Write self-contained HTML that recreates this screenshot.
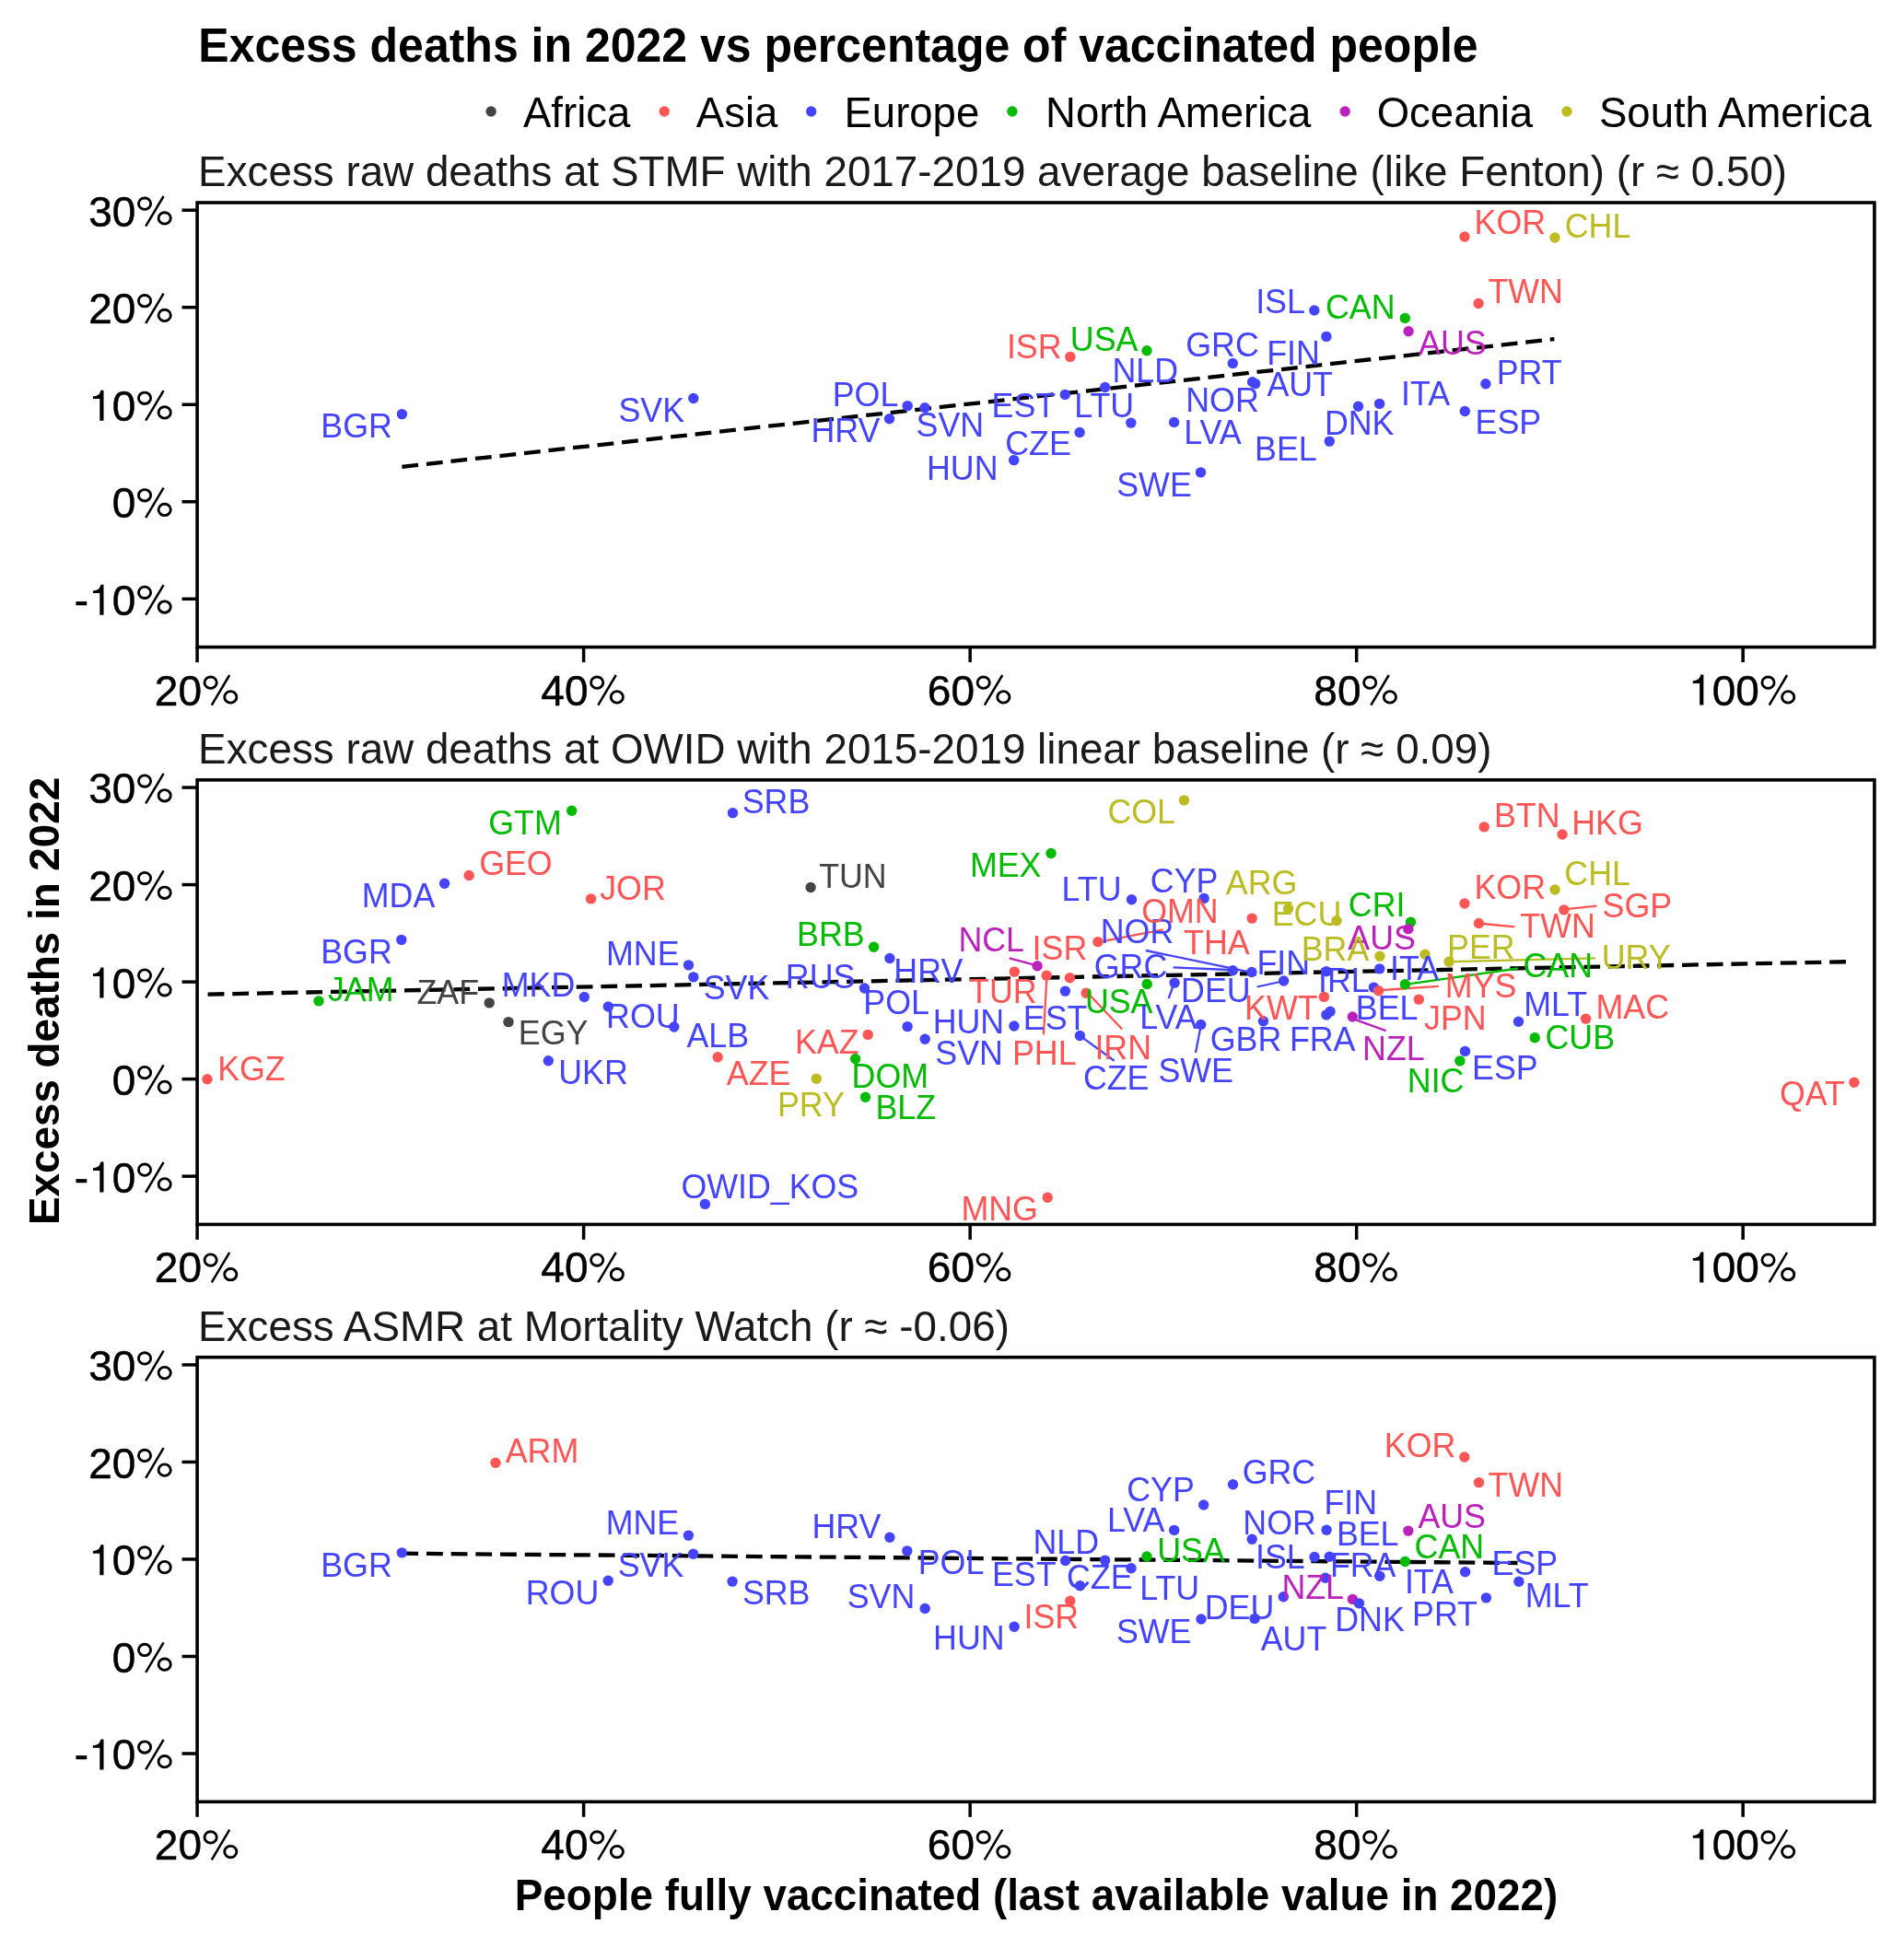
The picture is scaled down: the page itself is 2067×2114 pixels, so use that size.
<!DOCTYPE html><html><head><meta charset="utf-8"><style>html,body{margin:0;padding:0;background:#fff;}svg{display:block;will-change:transform;}text{font-family:"Liberation Sans",sans-serif;}</style></head><body>
<svg width="2067" height="2114" viewBox="0 0 2067 2114">
<rect x="0" y="0" width="2067" height="2114" fill="#fff"/>
<text transform="translate(215.3,66.7) scale(1,1.035)" font-size="50" font-weight="bold" fill="#000">Excess deaths in 2022 vs percentage of vaccinated people</text>
<circle cx="533.1" cy="121" r="5.7" fill="#444444"/>
<text x="568" y="137.9" font-size="45.5" fill="#000">Africa</text>
<circle cx="721.2" cy="121" r="5.7" fill="#ff5555"/>
<text x="755.8" y="137.9" font-size="45.5" fill="#000">Asia</text>
<circle cx="880.7" cy="121" r="5.7" fill="#4444ff"/>
<text x="916.5" y="137.9" font-size="45.5" fill="#000">Europe</text>
<circle cx="1098.9" cy="121" r="5.7" fill="#00bb00"/>
<text x="1135.1" y="137.9" font-size="45.5" fill="#000">North America</text>
<circle cx="1460.2" cy="121" r="5.7" fill="#bb22bb"/>
<text x="1494.7" y="137.9" font-size="45.5" fill="#000">Oceania</text>
<circle cx="1701" cy="121" r="5.7" fill="#bbbb22"/>
<text x="1736" y="137.9" font-size="45.5" fill="#000">South America</text>
<text transform="translate(1125,2074.2) scale(1,1.035)" font-size="45.8" font-weight="bold" text-anchor="middle" fill="#000">People fully vaccinated (last available value in 2022)</text>
<text x="0" y="0" font-size="45.8" font-weight="bold" text-anchor="middle" fill="#000" transform="translate(64.3,1086.9) rotate(-90)">Excess deaths in 2022</text>
<text transform="translate(215.1,202.4) scale(1,1.025)" font-size="45.8" fill="#1a1a1a">Excess raw deaths at STMF with 2017-2019 average baseline (like Fenton) (r ≈ 0.50)</text>
<line x1="197.5" y1="228.20" x2="214.1" y2="228.20" stroke="#000" stroke-width="3.5"/>
<text transform="translate(96.20,245.60) scale(1,1.01)" font-size="46" fill="#000" stroke="#000" stroke-width="0.5">3</text><text transform="translate(121.80,245.60) scale(1,1.01)" font-size="46" fill="#000" stroke="#000" stroke-width="0.5">0</text>
<g transform="translate(186.60,245.60)" fill="none" stroke="#000"><ellipse cx="-29.55" cy="-24.4" rx="6.6" ry="6.2" stroke-width="2.85"/><ellipse cx="-7.9" cy="-8.7" rx="6.6" ry="6.2" stroke-width="2.85"/><line x1="-9" y1="-32.6" x2="-28.4" y2="0" stroke-width="2.5"/></g>
<line x1="197.5" y1="333.73" x2="214.1" y2="333.73" stroke="#000" stroke-width="3.5"/>
<text transform="translate(96.20,351.12) scale(1,1.01)" font-size="46" fill="#000" stroke="#000" stroke-width="0.5">2</text><text transform="translate(121.80,351.12) scale(1,1.01)" font-size="46" fill="#000" stroke="#000" stroke-width="0.5">0</text>
<g transform="translate(186.60,351.12)" fill="none" stroke="#000"><ellipse cx="-29.55" cy="-24.4" rx="6.6" ry="6.2" stroke-width="2.85"/><ellipse cx="-7.9" cy="-8.7" rx="6.6" ry="6.2" stroke-width="2.85"/><line x1="-9" y1="-32.6" x2="-28.4" y2="0" stroke-width="2.5"/></g>
<line x1="197.5" y1="439.25" x2="214.1" y2="439.25" stroke="#000" stroke-width="3.5"/>
<path transform="translate(96.20,456.65)" d="M12.1,0 L16.3,0 L16.3,-33 L13.1,-33 C12.6,-29.2 10.2,-26.6 4.7,-26.4 L4.7,-23.6 L12.1,-23.6 Z" fill="#000"/><text transform="translate(121.80,456.65) scale(1,1.01)" font-size="46" fill="#000" stroke="#000" stroke-width="0.5">0</text>
<g transform="translate(186.60,456.65)" fill="none" stroke="#000"><ellipse cx="-29.55" cy="-24.4" rx="6.6" ry="6.2" stroke-width="2.85"/><ellipse cx="-7.9" cy="-8.7" rx="6.6" ry="6.2" stroke-width="2.85"/><line x1="-9" y1="-32.6" x2="-28.4" y2="0" stroke-width="2.5"/></g>
<line x1="197.5" y1="544.77" x2="214.1" y2="544.77" stroke="#000" stroke-width="3.5"/>
<text transform="translate(121.80,562.17) scale(1,1.01)" font-size="46" fill="#000" stroke="#000" stroke-width="0.5">0</text>
<g transform="translate(186.60,562.17)" fill="none" stroke="#000"><ellipse cx="-29.55" cy="-24.4" rx="6.6" ry="6.2" stroke-width="2.85"/><ellipse cx="-7.9" cy="-8.7" rx="6.6" ry="6.2" stroke-width="2.85"/><line x1="-9" y1="-32.6" x2="-28.4" y2="0" stroke-width="2.5"/></g>
<line x1="197.5" y1="650.30" x2="214.1" y2="650.30" stroke="#000" stroke-width="3.5"/>
<text transform="translate(80.87,667.70) scale(1,1.01)" font-size="46" fill="#000" stroke="#000" stroke-width="0.5">-</text><path transform="translate(96.20,667.70)" d="M12.1,0 L16.3,0 L16.3,-33 L13.1,-33 C12.6,-29.2 10.2,-26.6 4.7,-26.4 L4.7,-23.6 L12.1,-23.6 Z" fill="#000"/><text transform="translate(121.80,667.70) scale(1,1.01)" font-size="46" fill="#000" stroke="#000" stroke-width="0.5">0</text>
<g transform="translate(186.60,667.70)" fill="none" stroke="#000"><ellipse cx="-29.55" cy="-24.4" rx="6.6" ry="6.2" stroke-width="2.85"/><ellipse cx="-7.9" cy="-8.7" rx="6.6" ry="6.2" stroke-width="2.85"/><line x1="-9" y1="-32.6" x2="-28.4" y2="0" stroke-width="2.5"/></g>
<line x1="214.10" y1="702.60" x2="214.10" y2="719.10" stroke="#000" stroke-width="3.5"/>
<text transform="translate(167.80,765.60) scale(1,1.01)" font-size="46" fill="#000" stroke="#000" stroke-width="0.5">2</text><text transform="translate(193.40,765.60) scale(1,1.01)" font-size="46" fill="#000" stroke="#000" stroke-width="0.5">0</text>
<g transform="translate(258.20,765.60)" fill="none" stroke="#000"><ellipse cx="-29.55" cy="-24.4" rx="6.6" ry="6.2" stroke-width="2.85"/><ellipse cx="-7.9" cy="-8.7" rx="6.6" ry="6.2" stroke-width="2.85"/><line x1="-9" y1="-32.6" x2="-28.4" y2="0" stroke-width="2.5"/></g>
<line x1="633.62" y1="702.60" x2="633.62" y2="719.10" stroke="#000" stroke-width="3.5"/>
<text transform="translate(587.32,765.60) scale(1,1.01)" font-size="46" fill="#000" stroke="#000" stroke-width="0.5">4</text><text transform="translate(612.92,765.60) scale(1,1.01)" font-size="46" fill="#000" stroke="#000" stroke-width="0.5">0</text>
<g transform="translate(677.72,765.60)" fill="none" stroke="#000"><ellipse cx="-29.55" cy="-24.4" rx="6.6" ry="6.2" stroke-width="2.85"/><ellipse cx="-7.9" cy="-8.7" rx="6.6" ry="6.2" stroke-width="2.85"/><line x1="-9" y1="-32.6" x2="-28.4" y2="0" stroke-width="2.5"/></g>
<line x1="1053.14" y1="702.60" x2="1053.14" y2="719.10" stroke="#000" stroke-width="3.5"/>
<text transform="translate(1006.84,765.60) scale(1,1.01)" font-size="46" fill="#000" stroke="#000" stroke-width="0.5">6</text><text transform="translate(1032.44,765.60) scale(1,1.01)" font-size="46" fill="#000" stroke="#000" stroke-width="0.5">0</text>
<g transform="translate(1097.24,765.60)" fill="none" stroke="#000"><ellipse cx="-29.55" cy="-24.4" rx="6.6" ry="6.2" stroke-width="2.85"/><ellipse cx="-7.9" cy="-8.7" rx="6.6" ry="6.2" stroke-width="2.85"/><line x1="-9" y1="-32.6" x2="-28.4" y2="0" stroke-width="2.5"/></g>
<line x1="1472.66" y1="702.60" x2="1472.66" y2="719.10" stroke="#000" stroke-width="3.5"/>
<text transform="translate(1426.36,765.60) scale(1,1.01)" font-size="46" fill="#000" stroke="#000" stroke-width="0.5">8</text><text transform="translate(1451.96,765.60) scale(1,1.01)" font-size="46" fill="#000" stroke="#000" stroke-width="0.5">0</text>
<g transform="translate(1516.76,765.60)" fill="none" stroke="#000"><ellipse cx="-29.55" cy="-24.4" rx="6.6" ry="6.2" stroke-width="2.85"/><ellipse cx="-7.9" cy="-8.7" rx="6.6" ry="6.2" stroke-width="2.85"/><line x1="-9" y1="-32.6" x2="-28.4" y2="0" stroke-width="2.5"/></g>
<line x1="1892.18" y1="702.60" x2="1892.18" y2="719.10" stroke="#000" stroke-width="3.5"/>
<path transform="translate(1833.08,765.60)" d="M12.1,0 L16.3,0 L16.3,-33 L13.1,-33 C12.6,-29.2 10.2,-26.6 4.7,-26.4 L4.7,-23.6 L12.1,-23.6 Z" fill="#000"/><text transform="translate(1858.68,765.60) scale(1,1.01)" font-size="46" fill="#000" stroke="#000" stroke-width="0.5">0</text><text transform="translate(1884.28,765.60) scale(1,1.01)" font-size="46" fill="#000" stroke="#000" stroke-width="0.5">0</text>
<g transform="translate(1949.08,765.60)" fill="none" stroke="#000"><ellipse cx="-29.55" cy="-24.4" rx="6.6" ry="6.2" stroke-width="2.85"/><ellipse cx="-7.9" cy="-8.7" rx="6.6" ry="6.2" stroke-width="2.85"/><line x1="-9" y1="-32.6" x2="-28.4" y2="0" stroke-width="2.5"/></g>
<rect x="214.1" y="220.00" width="1820.80" height="482.60" fill="none" stroke="#000" stroke-width="3.6"/>
<line x1="436.4" y1="506.8" x2="1687.4" y2="368.2" stroke="#000" stroke-width="4.3" stroke-dasharray="17.8 8.88"/>
<circle cx="436.4" cy="449.6" r="5.7" fill="#4444ff"/>
<circle cx="752.8" cy="432.5" r="5.7" fill="#4444ff"/>
<circle cx="985.2" cy="440.6" r="5.7" fill="#4444ff"/>
<circle cx="1004" cy="442.7" r="5.7" fill="#4444ff"/>
<circle cx="965.5" cy="454.8" r="5.7" fill="#4444ff"/>
<circle cx="1100.7" cy="499.6" r="5.7" fill="#4444ff"/>
<circle cx="1172.1" cy="469.5" r="5.7" fill="#4444ff"/>
<circle cx="1156.3" cy="428.4" r="5.7" fill="#4444ff"/>
<circle cx="1199.6" cy="420.5" r="5.7" fill="#4444ff"/>
<circle cx="1227.8" cy="459.1" r="5.7" fill="#4444ff"/>
<circle cx="1161.8" cy="387.4" r="5.7" fill="#ff5555"/>
<circle cx="1245" cy="380.8" r="5.7" fill="#00bb00"/>
<circle cx="1338.3" cy="394.5" r="5.7" fill="#4444ff"/>
<circle cx="1359.6" cy="414.7" r="5.7" fill="#4444ff"/>
<circle cx="1362.7" cy="416.6" r="5.7" fill="#4444ff"/>
<circle cx="1274.6" cy="458.5" r="5.7" fill="#4444ff"/>
<circle cx="1303.5" cy="512.9" r="5.7" fill="#4444ff"/>
<circle cx="1426.8" cy="337" r="5.7" fill="#4444ff"/>
<circle cx="1439.9" cy="365.4" r="5.7" fill="#4444ff"/>
<circle cx="1525.3" cy="345.4" r="5.7" fill="#00bb00"/>
<circle cx="1529.1" cy="359.8" r="5.7" fill="#bb22bb"/>
<circle cx="1590" cy="257" r="5.7" fill="#ff5555"/>
<circle cx="1688" cy="258" r="5.7" fill="#bbbb22"/>
<circle cx="1605.1" cy="329.5" r="5.7" fill="#ff5555"/>
<circle cx="1612.9" cy="416.7" r="5.7" fill="#4444ff"/>
<circle cx="1590.3" cy="446.5" r="5.7" fill="#4444ff"/>
<circle cx="1474.5" cy="441.3" r="5.7" fill="#4444ff"/>
<circle cx="1497.6" cy="438.4" r="5.7" fill="#4444ff"/>
<circle cx="1443.3" cy="479.1" r="5.7" fill="#4444ff"/>
<text transform="translate(387.1,475.1) scale(1,1.05)" font-size="35.8" text-anchor="middle" fill="#4444ff">BGR</text>
<text transform="translate(707.3,457.5) scale(1,1.05)" font-size="35.8" text-anchor="middle" fill="#4444ff">SVK</text>
<text transform="translate(939.5,441.2) scale(1,1.05)" font-size="35.8" text-anchor="middle" fill="#4444ff">POL</text>
<text transform="translate(917.9,479.6) scale(1,1.05)" font-size="35.8" text-anchor="middle" fill="#4444ff">HRV</text>
<text transform="translate(1031.4,473.6) scale(1,1.05)" font-size="35.8" text-anchor="middle" fill="#4444ff">SVN</text>
<text transform="translate(1044.7,520.7) scale(1,1.05)" font-size="35.8" text-anchor="middle" fill="#4444ff">HUN</text>
<text transform="translate(1127,494) scale(1,1.05)" font-size="35.8" text-anchor="middle" fill="#4444ff">CZE</text>
<text transform="translate(1111.4,452.8) scale(1,1.05)" font-size="35.8" text-anchor="middle" fill="#4444ff">EST</text>
<text transform="translate(1198.7,452.8) scale(1,1.05)" font-size="35.8" text-anchor="middle" fill="#4444ff">LTU</text>
<text transform="translate(1243.3,414.6) scale(1,1.05)" font-size="35.8" text-anchor="middle" fill="#4444ff">NLD</text>
<text transform="translate(1122.7,389.2) scale(1,1.05)" font-size="35.8" text-anchor="middle" fill="#ff5555">ISR</text>
<text transform="translate(1198.6,381.2) scale(1,1.05)" font-size="35.8" text-anchor="middle" fill="#00bb00">USA</text>
<text transform="translate(1327,386.5) scale(1,1.05)" font-size="35.8" text-anchor="middle" fill="#4444ff">GRC</text>
<text transform="translate(1327,447) scale(1,1.05)" font-size="35.8" text-anchor="middle" fill="#4444ff">NOR</text>
<text transform="translate(1316.5,481.7) scale(1,1.05)" font-size="35.8" text-anchor="middle" fill="#4444ff">LVA</text>
<text transform="translate(1253,538.6) scale(1,1.05)" font-size="35.8" text-anchor="middle" fill="#4444ff">SWE</text>
<text transform="translate(1390,339.8) scale(1,1.05)" font-size="35.8" text-anchor="middle" fill="#4444ff">ISL</text>
<text transform="translate(1476.8,345.7) scale(1,1.05)" font-size="35.8" text-anchor="middle" fill="#00bb00">CAN</text>
<text transform="translate(1639.3,253.8) scale(1,1.05)" font-size="35.8" text-anchor="middle" fill="#ff5555">KOR</text>
<text transform="translate(1734.5,258.4) scale(1,1.05)" font-size="35.8" text-anchor="middle" fill="#bbbb22">CHL</text>
<text transform="translate(1656.2,328.9) scale(1,1.05)" font-size="35.8" text-anchor="middle" fill="#ff5555">TWN</text>
<text transform="translate(1404,396.3) scale(1,1.05)" font-size="35.8" text-anchor="middle" fill="#4444ff">FIN</text>
<text transform="translate(1576.8,384.7) scale(1,1.05)" font-size="35.8" text-anchor="middle" fill="#bb22bb">AUS</text>
<text transform="translate(1411.2,430.3) scale(1,1.05)" font-size="35.8" text-anchor="middle" fill="#4444ff">AUT</text>
<text transform="translate(1547.6,439.5) scale(1,1.05)" font-size="35.8" text-anchor="middle" fill="#4444ff">ITA</text>
<text transform="translate(1660.2,417.3) scale(1,1.05)" font-size="35.8" text-anchor="middle" fill="#4444ff">PRT</text>
<text transform="translate(1475.7,472.2) scale(1,1.05)" font-size="35.8" text-anchor="middle" fill="#4444ff">DNK</text>
<text transform="translate(1637.4,471.3) scale(1,1.05)" font-size="35.8" text-anchor="middle" fill="#4444ff">ESP</text>
<text transform="translate(1395.9,500.2) scale(1,1.05)" font-size="35.8" text-anchor="middle" fill="#4444ff">BEL</text>
<text transform="translate(215.1,829.2) scale(1,1.025)" font-size="45.8" fill="#1a1a1a">Excess raw deaths at OWID with 2015-2019 linear baseline (r ≈ 0.09)</text>
<line x1="197.5" y1="855.05" x2="214.1" y2="855.05" stroke="#000" stroke-width="3.5"/>
<text transform="translate(96.20,872.45) scale(1,1.01)" font-size="46" fill="#000" stroke="#000" stroke-width="0.5">3</text><text transform="translate(121.80,872.45) scale(1,1.01)" font-size="46" fill="#000" stroke="#000" stroke-width="0.5">0</text>
<g transform="translate(186.60,872.45)" fill="none" stroke="#000"><ellipse cx="-29.55" cy="-24.4" rx="6.6" ry="6.2" stroke-width="2.85"/><ellipse cx="-7.9" cy="-8.7" rx="6.6" ry="6.2" stroke-width="2.85"/><line x1="-9" y1="-32.6" x2="-28.4" y2="0" stroke-width="2.5"/></g>
<line x1="197.5" y1="960.57" x2="214.1" y2="960.57" stroke="#000" stroke-width="3.5"/>
<text transform="translate(96.20,977.97) scale(1,1.01)" font-size="46" fill="#000" stroke="#000" stroke-width="0.5">2</text><text transform="translate(121.80,977.97) scale(1,1.01)" font-size="46" fill="#000" stroke="#000" stroke-width="0.5">0</text>
<g transform="translate(186.60,977.97)" fill="none" stroke="#000"><ellipse cx="-29.55" cy="-24.4" rx="6.6" ry="6.2" stroke-width="2.85"/><ellipse cx="-7.9" cy="-8.7" rx="6.6" ry="6.2" stroke-width="2.85"/><line x1="-9" y1="-32.6" x2="-28.4" y2="0" stroke-width="2.5"/></g>
<line x1="197.5" y1="1066.10" x2="214.1" y2="1066.10" stroke="#000" stroke-width="3.5"/>
<path transform="translate(96.20,1083.50)" d="M12.1,0 L16.3,0 L16.3,-33 L13.1,-33 C12.6,-29.2 10.2,-26.6 4.7,-26.4 L4.7,-23.6 L12.1,-23.6 Z" fill="#000"/><text transform="translate(121.80,1083.50) scale(1,1.01)" font-size="46" fill="#000" stroke="#000" stroke-width="0.5">0</text>
<g transform="translate(186.60,1083.50)" fill="none" stroke="#000"><ellipse cx="-29.55" cy="-24.4" rx="6.6" ry="6.2" stroke-width="2.85"/><ellipse cx="-7.9" cy="-8.7" rx="6.6" ry="6.2" stroke-width="2.85"/><line x1="-9" y1="-32.6" x2="-28.4" y2="0" stroke-width="2.5"/></g>
<line x1="197.5" y1="1171.62" x2="214.1" y2="1171.62" stroke="#000" stroke-width="3.5"/>
<text transform="translate(121.80,1189.03) scale(1,1.01)" font-size="46" fill="#000" stroke="#000" stroke-width="0.5">0</text>
<g transform="translate(186.60,1189.03)" fill="none" stroke="#000"><ellipse cx="-29.55" cy="-24.4" rx="6.6" ry="6.2" stroke-width="2.85"/><ellipse cx="-7.9" cy="-8.7" rx="6.6" ry="6.2" stroke-width="2.85"/><line x1="-9" y1="-32.6" x2="-28.4" y2="0" stroke-width="2.5"/></g>
<line x1="197.5" y1="1277.15" x2="214.1" y2="1277.15" stroke="#000" stroke-width="3.5"/>
<text transform="translate(80.87,1294.55) scale(1,1.01)" font-size="46" fill="#000" stroke="#000" stroke-width="0.5">-</text><path transform="translate(96.20,1294.55)" d="M12.1,0 L16.3,0 L16.3,-33 L13.1,-33 C12.6,-29.2 10.2,-26.6 4.7,-26.4 L4.7,-23.6 L12.1,-23.6 Z" fill="#000"/><text transform="translate(121.80,1294.55) scale(1,1.01)" font-size="46" fill="#000" stroke="#000" stroke-width="0.5">0</text>
<g transform="translate(186.60,1294.55)" fill="none" stroke="#000"><ellipse cx="-29.55" cy="-24.4" rx="6.6" ry="6.2" stroke-width="2.85"/><ellipse cx="-7.9" cy="-8.7" rx="6.6" ry="6.2" stroke-width="2.85"/><line x1="-9" y1="-32.6" x2="-28.4" y2="0" stroke-width="2.5"/></g>
<line x1="214.10" y1="1329.45" x2="214.10" y2="1345.95" stroke="#000" stroke-width="3.5"/>
<text transform="translate(167.80,1392.45) scale(1,1.01)" font-size="46" fill="#000" stroke="#000" stroke-width="0.5">2</text><text transform="translate(193.40,1392.45) scale(1,1.01)" font-size="46" fill="#000" stroke="#000" stroke-width="0.5">0</text>
<g transform="translate(258.20,1392.45)" fill="none" stroke="#000"><ellipse cx="-29.55" cy="-24.4" rx="6.6" ry="6.2" stroke-width="2.85"/><ellipse cx="-7.9" cy="-8.7" rx="6.6" ry="6.2" stroke-width="2.85"/><line x1="-9" y1="-32.6" x2="-28.4" y2="0" stroke-width="2.5"/></g>
<line x1="633.62" y1="1329.45" x2="633.62" y2="1345.95" stroke="#000" stroke-width="3.5"/>
<text transform="translate(587.32,1392.45) scale(1,1.01)" font-size="46" fill="#000" stroke="#000" stroke-width="0.5">4</text><text transform="translate(612.92,1392.45) scale(1,1.01)" font-size="46" fill="#000" stroke="#000" stroke-width="0.5">0</text>
<g transform="translate(677.72,1392.45)" fill="none" stroke="#000"><ellipse cx="-29.55" cy="-24.4" rx="6.6" ry="6.2" stroke-width="2.85"/><ellipse cx="-7.9" cy="-8.7" rx="6.6" ry="6.2" stroke-width="2.85"/><line x1="-9" y1="-32.6" x2="-28.4" y2="0" stroke-width="2.5"/></g>
<line x1="1053.14" y1="1329.45" x2="1053.14" y2="1345.95" stroke="#000" stroke-width="3.5"/>
<text transform="translate(1006.84,1392.45) scale(1,1.01)" font-size="46" fill="#000" stroke="#000" stroke-width="0.5">6</text><text transform="translate(1032.44,1392.45) scale(1,1.01)" font-size="46" fill="#000" stroke="#000" stroke-width="0.5">0</text>
<g transform="translate(1097.24,1392.45)" fill="none" stroke="#000"><ellipse cx="-29.55" cy="-24.4" rx="6.6" ry="6.2" stroke-width="2.85"/><ellipse cx="-7.9" cy="-8.7" rx="6.6" ry="6.2" stroke-width="2.85"/><line x1="-9" y1="-32.6" x2="-28.4" y2="0" stroke-width="2.5"/></g>
<line x1="1472.66" y1="1329.45" x2="1472.66" y2="1345.95" stroke="#000" stroke-width="3.5"/>
<text transform="translate(1426.36,1392.45) scale(1,1.01)" font-size="46" fill="#000" stroke="#000" stroke-width="0.5">8</text><text transform="translate(1451.96,1392.45) scale(1,1.01)" font-size="46" fill="#000" stroke="#000" stroke-width="0.5">0</text>
<g transform="translate(1516.76,1392.45)" fill="none" stroke="#000"><ellipse cx="-29.55" cy="-24.4" rx="6.6" ry="6.2" stroke-width="2.85"/><ellipse cx="-7.9" cy="-8.7" rx="6.6" ry="6.2" stroke-width="2.85"/><line x1="-9" y1="-32.6" x2="-28.4" y2="0" stroke-width="2.5"/></g>
<line x1="1892.18" y1="1329.45" x2="1892.18" y2="1345.95" stroke="#000" stroke-width="3.5"/>
<path transform="translate(1833.08,1392.45)" d="M12.1,0 L16.3,0 L16.3,-33 L13.1,-33 C12.6,-29.2 10.2,-26.6 4.7,-26.4 L4.7,-23.6 L12.1,-23.6 Z" fill="#000"/><text transform="translate(1858.68,1392.45) scale(1,1.01)" font-size="46" fill="#000" stroke="#000" stroke-width="0.5">0</text><text transform="translate(1884.28,1392.45) scale(1,1.01)" font-size="46" fill="#000" stroke="#000" stroke-width="0.5">0</text>
<g transform="translate(1949.08,1392.45)" fill="none" stroke="#000"><ellipse cx="-29.55" cy="-24.4" rx="6.6" ry="6.2" stroke-width="2.85"/><ellipse cx="-7.9" cy="-8.7" rx="6.6" ry="6.2" stroke-width="2.85"/><line x1="-9" y1="-32.6" x2="-28.4" y2="0" stroke-width="2.5"/></g>
<rect x="214.1" y="846.85" width="1820.80" height="482.60" fill="none" stroke="#000" stroke-width="3.6"/>
<line x1="225.6" y1="1079.6" x2="2012.5" y2="1044.1" stroke="#000" stroke-width="4.3" stroke-dasharray="17.8 8.88"/>
<line x1="1095.7" y1="1040.4" x2="1124.0" y2="1047.8" stroke="#bb22bb" stroke-width="2.3"/>
<line x1="1199.7" y1="1021.5" x2="1262.7" y2="1009.3" stroke="#ff5555" stroke-width="2.3"/>
<line x1="1136.2" y1="1064.6" x2="1132.9" y2="1123.4" stroke="#ff5555" stroke-width="2.3"/>
<line x1="1182.9" y1="1080.3" x2="1218.2" y2="1117.5" stroke="#ff5555" stroke-width="2.3"/>
<line x1="1176.6" y1="1127.6" x2="1209.7" y2="1151.8" stroke="#4444ff" stroke-width="2.3"/>
<line x1="1273.2" y1="1071.5" x2="1268.6" y2="1084.1" stroke="#4444ff" stroke-width="2.3"/>
<line x1="1303.0" y1="1117.1" x2="1298.0" y2="1143.0" stroke="#4444ff" stroke-width="2.3"/>
<line x1="1273.6" y1="1050.3" x2="1334.1" y2="1053.0" stroke="#4444ff" stroke-width="2.3"/>
<line x1="1243.8" y1="1032.0" x2="1355.1" y2="1055.1" stroke="#4444ff" stroke-width="2.3"/>
<line x1="1364.6" y1="1071.5" x2="1389.8" y2="1066.0" stroke="#4444ff" stroke-width="2.3"/>
<line x1="1702.4" y1="986.9" x2="1733.4" y2="983.6" stroke="#ff5555" stroke-width="2.3"/>
<line x1="1610.4" y1="1003.0" x2="1644.5" y2="1006.3" stroke="#ff5555" stroke-width="2.3"/>
<line x1="1576.5" y1="1044.2" x2="1731.9" y2="1040.4" stroke="#bbbb22" stroke-width="2.3"/>
<line x1="1529.2" y1="1068.3" x2="1647.9" y2="1051.5" stroke="#00bb00" stroke-width="2.3"/>
<line x1="1500.8" y1="1075.0" x2="1561.8" y2="1070.8" stroke="#ff5555" stroke-width="2.3"/>
<line x1="1471.4" y1="1107.2" x2="1504.6" y2="1119.2" stroke="#bb22bb" stroke-width="2.3"/>
<circle cx="620.7" cy="880.3" r="5.7" fill="#00bb00"/>
<circle cx="509.2" cy="950.5" r="5.7" fill="#ff5555"/>
<circle cx="482.6" cy="959.2" r="5.7" fill="#4444ff"/>
<circle cx="641.5" cy="975.9" r="5.7" fill="#ff5555"/>
<circle cx="435.8" cy="1020.4" r="5.7" fill="#4444ff"/>
<circle cx="747.5" cy="1047.9" r="5.7" fill="#4444ff"/>
<circle cx="752.8" cy="1060.9" r="5.7" fill="#4444ff"/>
<circle cx="346" cy="1086.9" r="5.7" fill="#00bb00"/>
<circle cx="531.2" cy="1088.9" r="5.7" fill="#444444"/>
<circle cx="634.3" cy="1082.5" r="5.7" fill="#4444ff"/>
<circle cx="660.3" cy="1093" r="5.7" fill="#4444ff"/>
<circle cx="225" cy="1171.7" r="5.7" fill="#ff5555"/>
<circle cx="552" cy="1109.6" r="5.7" fill="#444444"/>
<circle cx="595.3" cy="1151.7" r="5.7" fill="#4444ff"/>
<circle cx="731.8" cy="1115" r="5.7" fill="#4444ff"/>
<circle cx="795.5" cy="882.6" r="5.7" fill="#4444ff"/>
<circle cx="880.1" cy="963.5" r="5.7" fill="#444444"/>
<circle cx="1141" cy="926.5" r="5.7" fill="#00bb00"/>
<circle cx="1228.5" cy="976.8" r="5.7" fill="#4444ff"/>
<circle cx="1285.5" cy="868.9" r="5.7" fill="#bbbb22"/>
<circle cx="948.6" cy="1028.2" r="5.7" fill="#00bb00"/>
<circle cx="965.9" cy="1040.5" r="5.7" fill="#4444ff"/>
<circle cx="938.5" cy="1073" r="5.7" fill="#4444ff"/>
<circle cx="985.1" cy="1114.6" r="5.7" fill="#4444ff"/>
<circle cx="1004.2" cy="1128.3" r="5.7" fill="#4444ff"/>
<circle cx="1100.9" cy="1114" r="5.7" fill="#4444ff"/>
<circle cx="942.2" cy="1123.4" r="5.7" fill="#ff5555"/>
<circle cx="779.2" cy="1147.8" r="5.7" fill="#ff5555"/>
<circle cx="928.6" cy="1149.7" r="5.7" fill="#00bb00"/>
<circle cx="886.3" cy="1171.3" r="5.7" fill="#bbbb22"/>
<circle cx="939.5" cy="1191.3" r="5.7" fill="#00bb00"/>
<circle cx="765.4" cy="1307.4" r="5.7" fill="#4444ff"/>
<circle cx="1137.2" cy="1300.3" r="5.7" fill="#ff5555"/>
<circle cx="1126.1" cy="1048.8" r="5.7" fill="#bb22bb"/>
<circle cx="1101.3" cy="1055.1" r="5.7" fill="#ff5555"/>
<circle cx="1136.2" cy="1059.3" r="5.7" fill="#ff5555"/>
<circle cx="1161.4" cy="1061.8" r="5.7" fill="#ff5555"/>
<circle cx="1191.9" cy="1022.6" r="5.7" fill="#ff5555"/>
<circle cx="1156.4" cy="1076.1" r="5.7" fill="#4444ff"/>
<circle cx="1179.1" cy="1078.2" r="5.7" fill="#ff5555"/>
<circle cx="1172.4" cy="1124.5" r="5.7" fill="#4444ff"/>
<circle cx="1245.2" cy="1068.5" r="5.7" fill="#00bb00"/>
<circle cx="1275.1" cy="1067.1" r="5.7" fill="#4444ff"/>
<circle cx="1303.7" cy="1112.5" r="5.7" fill="#4444ff"/>
<circle cx="1338.3" cy="1053.7" r="5.7" fill="#4444ff"/>
<circle cx="1358.9" cy="1055.5" r="5.7" fill="#4444ff"/>
<circle cx="1393.6" cy="1065" r="5.7" fill="#4444ff"/>
<circle cx="1371.5" cy="1108.7" r="5.7" fill="#4444ff"/>
<circle cx="1307.1" cy="975.4" r="5.7" fill="#4444ff"/>
<circle cx="1359.2" cy="997.1" r="5.7" fill="#ff5555"/>
<circle cx="1398.5" cy="986.6" r="5.7" fill="#bbbb22"/>
<circle cx="1451" cy="999.6" r="5.7" fill="#bbbb22"/>
<circle cx="1531.5" cy="1001.3" r="5.7" fill="#00bb00"/>
<circle cx="1528.8" cy="1008.6" r="5.7" fill="#bb22bb"/>
<circle cx="1590" cy="981" r="5.7" fill="#ff5555"/>
<circle cx="1497.9" cy="1038.3" r="5.7" fill="#bbbb22"/>
<circle cx="1547" cy="1036.2" r="5.7" fill="#bbbb22"/>
<circle cx="1573.1" cy="1044.3" r="5.7" fill="#bbbb22"/>
<circle cx="1611.2" cy="897.9" r="5.7" fill="#ff5555"/>
<circle cx="1696.1" cy="906" r="5.7" fill="#ff5555"/>
<circle cx="1688.1" cy="966" r="5.7" fill="#bbbb22"/>
<circle cx="1697.9" cy="987.9" r="5.7" fill="#ff5555"/>
<circle cx="1605.4" cy="1002.5" r="5.7" fill="#ff5555"/>
<circle cx="1439.9" cy="1054.7" r="5.7" fill="#4444ff"/>
<circle cx="1497.7" cy="1051.9" r="5.7" fill="#4444ff"/>
<circle cx="1491.4" cy="1072.1" r="5.7" fill="#4444ff"/>
<circle cx="1496.6" cy="1075.7" r="5.7" fill="#ff5555"/>
<circle cx="1525.4" cy="1068.7" r="5.7" fill="#00bb00"/>
<circle cx="1437.4" cy="1082.4" r="5.7" fill="#ff5555"/>
<circle cx="1540.3" cy="1085.1" r="5.7" fill="#ff5555"/>
<circle cx="1439.9" cy="1101.9" r="5.7" fill="#4444ff"/>
<circle cx="1444.1" cy="1098.2" r="5.7" fill="#4444ff"/>
<circle cx="1468.3" cy="1104" r="5.7" fill="#bb22bb"/>
<circle cx="1648.5" cy="1109.3" r="5.7" fill="#4444ff"/>
<circle cx="1721.6" cy="1106.1" r="5.7" fill="#ff5555"/>
<circle cx="1666.2" cy="1126.7" r="5.7" fill="#00bb00"/>
<circle cx="1590.5" cy="1141.4" r="5.7" fill="#4444ff"/>
<circle cx="1584.9" cy="1151.9" r="5.7" fill="#00bb00"/>
<circle cx="2012.9" cy="1175.2" r="5.7" fill="#ff5555"/>
<text transform="translate(570,906.3) scale(1,1.05)" font-size="35.8" text-anchor="middle" fill="#00bb00">GTM</text>
<text transform="translate(559.9,949.7) scale(1,1.05)" font-size="35.8" text-anchor="middle" fill="#ff5555">GEO</text>
<text transform="translate(432.5,985.2) scale(1,1.05)" font-size="35.8" text-anchor="middle" fill="#4444ff">MDA</text>
<text transform="translate(687,977.1) scale(1,1.05)" font-size="35.8" text-anchor="middle" fill="#ff5555">JOR</text>
<text transform="translate(387,1046.4) scale(1,1.05)" font-size="35.8" text-anchor="middle" fill="#4444ff">BGR</text>
<text transform="translate(697.8,1047.9) scale(1,1.05)" font-size="35.8" text-anchor="middle" fill="#4444ff">MNE</text>
<text transform="translate(391.7,1087.4) scale(1,1.05)" font-size="35.8" text-anchor="middle" fill="#00bb00">JAM</text>
<text transform="translate(486.3,1090.3) scale(1,1.05)" font-size="35.8" text-anchor="middle" fill="#444444">ZAF</text>
<text transform="translate(584.5,1081.7) scale(1,1.05)" font-size="35.8" text-anchor="middle" fill="#4444ff">MKD</text>
<text transform="translate(272.9,1172.5) scale(1,1.05)" font-size="35.8" text-anchor="middle" fill="#ff5555">KGZ</text>
<text transform="translate(600.6,1134.1) scale(1,1.05)" font-size="35.8" text-anchor="middle" fill="#444444">EGY</text>
<text transform="translate(644,1176.9) scale(1,1.05)" font-size="35.8" text-anchor="middle" fill="#4444ff">UKR</text>
<text transform="translate(697.8,1115.6) scale(1,1.05)" font-size="35.8" text-anchor="middle" fill="#4444ff">ROU</text>
<text transform="translate(842.5,882.6) scale(1,1.05)" font-size="35.8" text-anchor="middle" fill="#4444ff">SRB</text>
<text transform="translate(925.9,963.5) scale(1,1.05)" font-size="35.8" text-anchor="middle" fill="#444444">TUN</text>
<text transform="translate(1091.7,951.7) scale(1,1.05)" font-size="35.8" text-anchor="middle" fill="#00bb00">MEX</text>
<text transform="translate(1185.1,977.7) scale(1,1.05)" font-size="35.8" text-anchor="middle" fill="#4444ff">LTU</text>
<text transform="translate(1239.2,894) scale(1,1.05)" font-size="35.8" text-anchor="middle" fill="#bbbb22">COL</text>
<text transform="translate(901.8,1026.8) scale(1,1.05)" font-size="35.8" text-anchor="middle" fill="#00bb00">BRB</text>
<text transform="translate(1007.8,1066.8) scale(1,1.05)" font-size="35.8" text-anchor="middle" fill="#4444ff">HRV</text>
<text transform="translate(1076.2,1033.1) scale(1,1.05)" font-size="35.8" text-anchor="middle" fill="#bb22bb">NCL</text>
<text transform="translate(1150.4,1042.3) scale(1,1.05)" font-size="35.8" text-anchor="middle" fill="#ff5555">ISR</text>
<text transform="translate(890.6,1072.5) scale(1,1.05)" font-size="35.8" text-anchor="middle" fill="#4444ff">RUS</text>
<text transform="translate(799.5,1085.3) scale(1,1.05)" font-size="35.8" text-anchor="middle" fill="#4444ff">SVK</text>
<text transform="translate(1088.8,1088.5) scale(1,1.05)" font-size="35.8" text-anchor="middle" fill="#ff5555">TUR</text>
<text transform="translate(1234.5,1024.1) scale(1,1.05)" font-size="35.8" text-anchor="middle" fill="#4444ff">NOR</text>
<text transform="translate(1227.5,1061.8) scale(1,1.05)" font-size="35.8" text-anchor="middle" fill="#4444ff">GRC</text>
<text transform="translate(1320.9,1036) scale(1,1.05)" font-size="35.8" text-anchor="middle" fill="#ff5555">THA</text>
<text transform="translate(1393.3,1058.3) scale(1,1.05)" font-size="35.8" text-anchor="middle" fill="#4444ff">FIN</text>
<text transform="translate(1214.7,1099.7) scale(1,1.05)" font-size="35.8" text-anchor="middle" fill="#00bb00">USA</text>
<text transform="translate(1319.9,1087.7) scale(1,1.05)" font-size="35.8" text-anchor="middle" fill="#4444ff">DEU</text>
<text transform="translate(1145.6,1117.5) scale(1,1.05)" font-size="35.8" text-anchor="middle" fill="#4444ff">EST</text>
<text transform="translate(1268.5,1117.1) scale(1,1.05)" font-size="35.8" text-anchor="middle" fill="#4444ff">LVA</text>
<text transform="translate(1390.8,1107) scale(1,1.05)" font-size="35.8" text-anchor="middle" fill="#ff5555">KWT</text>
<text transform="translate(1051.4,1122.4) scale(1,1.05)" font-size="35.8" text-anchor="middle" fill="#4444ff">HUN</text>
<text transform="translate(1052.1,1156) scale(1,1.05)" font-size="35.8" text-anchor="middle" fill="#4444ff">SVN</text>
<text transform="translate(1133.8,1156) scale(1,1.05)" font-size="35.8" text-anchor="middle" fill="#ff5555">PHL</text>
<text transform="translate(1219.2,1150.1) scale(1,1.05)" font-size="35.8" text-anchor="middle" fill="#ff5555">IRN</text>
<text transform="translate(1211.7,1183.3) scale(1,1.05)" font-size="35.8" text-anchor="middle" fill="#4444ff">CZE</text>
<text transform="translate(1298.2,1174.9) scale(1,1.05)" font-size="35.8" text-anchor="middle" fill="#4444ff">SWE</text>
<text transform="translate(1352.5,1140.8) scale(1,1.05)" font-size="35.8" text-anchor="middle" fill="#4444ff">GBR</text>
<text transform="translate(973.1,1101.3) scale(1,1.05)" font-size="35.8" text-anchor="middle" fill="#4444ff">POL</text>
<text transform="translate(779.3,1136.6) scale(1,1.05)" font-size="35.8" text-anchor="middle" fill="#4444ff">ALB</text>
<text transform="translate(897.8,1144) scale(1,1.05)" font-size="35.8" text-anchor="middle" fill="#ff5555">KAZ</text>
<text transform="translate(823.6,1177.6) scale(1,1.05)" font-size="35.8" text-anchor="middle" fill="#ff5555">AZE</text>
<text transform="translate(966.3,1180.8) scale(1,1.05)" font-size="35.8" text-anchor="middle" fill="#00bb00">DOM</text>
<text transform="translate(880.4,1211.8) scale(1,1.05)" font-size="35.8" text-anchor="middle" fill="#bbbb22">PRY</text>
<text transform="translate(983.3,1214.8) scale(1,1.05)" font-size="35.8" text-anchor="middle" fill="#00bb00">BLZ</text>
<text transform="translate(835.8,1300.8) scale(1,1.05)" font-size="35.8" text-anchor="middle" fill="#4444ff">OWID_KOS</text>
<text transform="translate(1085.2,1325.2) scale(1,1.05)" font-size="35.8" text-anchor="middle" fill="#ff5555">MNG</text>
<text transform="translate(1285.6,968.7) scale(1,1.05)" font-size="35.8" text-anchor="middle" fill="#4444ff">CYP</text>
<text transform="translate(1369.6,970.8) scale(1,1.05)" font-size="35.8" text-anchor="middle" fill="#bbbb22">ARG</text>
<text transform="translate(1280.9,1002.3) scale(1,1.05)" font-size="35.8" text-anchor="middle" fill="#ff5555">OMN</text>
<text transform="translate(1418.5,1005) scale(1,1.05)" font-size="35.8" text-anchor="middle" fill="#bbbb22">ECU</text>
<text transform="translate(1494.6,995) scale(1,1.05)" font-size="35.8" text-anchor="middle" fill="#00bb00">CRI</text>
<text transform="translate(1500.1,1030.7) scale(1,1.05)" font-size="35.8" text-anchor="middle" fill="#bb22bb">AUS</text>
<text transform="translate(1449.5,1043.3) scale(1,1.05)" font-size="35.8" text-anchor="middle" fill="#bbbb22">BRA</text>
<text transform="translate(1657.7,898.4) scale(1,1.05)" font-size="35.8" text-anchor="middle" fill="#ff5555">BTN</text>
<text transform="translate(1745,906) scale(1,1.05)" font-size="35.8" text-anchor="middle" fill="#ff5555">HKG</text>
<text transform="translate(1734.1,961.4) scale(1,1.05)" font-size="35.8" text-anchor="middle" fill="#bbbb22">CHL</text>
<text transform="translate(1639.2,976) scale(1,1.05)" font-size="35.8" text-anchor="middle" fill="#ff5555">KOR</text>
<text transform="translate(1777.4,995.5) scale(1,1.05)" font-size="35.8" text-anchor="middle" fill="#ff5555">SGP</text>
<text transform="translate(1691.1,1018.4) scale(1,1.05)" font-size="35.8" text-anchor="middle" fill="#ff5555">TWN</text>
<text transform="translate(1607.9,1040.8) scale(1,1.05)" font-size="35.8" text-anchor="middle" fill="#bbbb22">PER</text>
<text transform="translate(1776.2,1052.4) scale(1,1.05)" font-size="35.8" text-anchor="middle" fill="#bbbb22">URY</text>
<text transform="translate(1691.2,1060.8) scale(1,1.05)" font-size="35.8" text-anchor="middle" fill="#00bb00">CAN</text>
<text transform="translate(1607.5,1083.1) scale(1,1.05)" font-size="35.8" text-anchor="middle" fill="#ff5555">MYS</text>
<text transform="translate(1535.5,1064.1) scale(1,1.05)" font-size="35.8" text-anchor="middle" fill="#4444ff">ITA</text>
<text transform="translate(1458.8,1076.7) scale(1,1.05)" font-size="35.8" text-anchor="middle" fill="#4444ff">IRL</text>
<text transform="translate(1505.6,1106.6) scale(1,1.05)" font-size="35.8" text-anchor="middle" fill="#4444ff">BEL</text>
<text transform="translate(1579.9,1117.7) scale(1,1.05)" font-size="35.8" text-anchor="middle" fill="#ff5555">JPN</text>
<text transform="translate(1688.7,1103) scale(1,1.05)" font-size="35.8" text-anchor="middle" fill="#4444ff">MLT</text>
<text transform="translate(1772.3,1105.6) scale(1,1.05)" font-size="35.8" text-anchor="middle" fill="#ff5555">MAC</text>
<text transform="translate(1435.7,1140.8) scale(1,1.05)" font-size="35.8" text-anchor="middle" fill="#4444ff">FRA</text>
<text transform="translate(1512.9,1151.3) scale(1,1.05)" font-size="35.8" text-anchor="middle" fill="#bb22bb">NZL</text>
<text transform="translate(1715.3,1139.4) scale(1,1.05)" font-size="35.8" text-anchor="middle" fill="#00bb00">CUB</text>
<text transform="translate(1633.9,1172.3) scale(1,1.05)" font-size="35.8" text-anchor="middle" fill="#4444ff">ESP</text>
<text transform="translate(1558.6,1186) scale(1,1.05)" font-size="35.8" text-anchor="middle" fill="#00bb00">NIC</text>
<text transform="translate(1967.4,1200.2) scale(1,1.05)" font-size="35.8" text-anchor="middle" fill="#ff5555">QAT</text>
<text transform="translate(215.1,1456.1) scale(1,1.025)" font-size="45.8" fill="#1a1a1a">Excess ASMR at Mortality Watch (r ≈ -0.06)</text>
<line x1="197.5" y1="1481.90" x2="214.1" y2="1481.90" stroke="#000" stroke-width="3.5"/>
<text transform="translate(96.20,1499.30) scale(1,1.01)" font-size="46" fill="#000" stroke="#000" stroke-width="0.5">3</text><text transform="translate(121.80,1499.30) scale(1,1.01)" font-size="46" fill="#000" stroke="#000" stroke-width="0.5">0</text>
<g transform="translate(186.60,1499.30)" fill="none" stroke="#000"><ellipse cx="-29.55" cy="-24.4" rx="6.6" ry="6.2" stroke-width="2.85"/><ellipse cx="-7.9" cy="-8.7" rx="6.6" ry="6.2" stroke-width="2.85"/><line x1="-9" y1="-32.6" x2="-28.4" y2="0" stroke-width="2.5"/></g>
<line x1="197.5" y1="1587.43" x2="214.1" y2="1587.43" stroke="#000" stroke-width="3.5"/>
<text transform="translate(96.20,1604.83) scale(1,1.01)" font-size="46" fill="#000" stroke="#000" stroke-width="0.5">2</text><text transform="translate(121.80,1604.83) scale(1,1.01)" font-size="46" fill="#000" stroke="#000" stroke-width="0.5">0</text>
<g transform="translate(186.60,1604.83)" fill="none" stroke="#000"><ellipse cx="-29.55" cy="-24.4" rx="6.6" ry="6.2" stroke-width="2.85"/><ellipse cx="-7.9" cy="-8.7" rx="6.6" ry="6.2" stroke-width="2.85"/><line x1="-9" y1="-32.6" x2="-28.4" y2="0" stroke-width="2.5"/></g>
<line x1="197.5" y1="1692.95" x2="214.1" y2="1692.95" stroke="#000" stroke-width="3.5"/>
<path transform="translate(96.20,1710.35)" d="M12.1,0 L16.3,0 L16.3,-33 L13.1,-33 C12.6,-29.2 10.2,-26.6 4.7,-26.4 L4.7,-23.6 L12.1,-23.6 Z" fill="#000"/><text transform="translate(121.80,1710.35) scale(1,1.01)" font-size="46" fill="#000" stroke="#000" stroke-width="0.5">0</text>
<g transform="translate(186.60,1710.35)" fill="none" stroke="#000"><ellipse cx="-29.55" cy="-24.4" rx="6.6" ry="6.2" stroke-width="2.85"/><ellipse cx="-7.9" cy="-8.7" rx="6.6" ry="6.2" stroke-width="2.85"/><line x1="-9" y1="-32.6" x2="-28.4" y2="0" stroke-width="2.5"/></g>
<line x1="197.5" y1="1798.48" x2="214.1" y2="1798.48" stroke="#000" stroke-width="3.5"/>
<text transform="translate(121.80,1815.88) scale(1,1.01)" font-size="46" fill="#000" stroke="#000" stroke-width="0.5">0</text>
<g transform="translate(186.60,1815.88)" fill="none" stroke="#000"><ellipse cx="-29.55" cy="-24.4" rx="6.6" ry="6.2" stroke-width="2.85"/><ellipse cx="-7.9" cy="-8.7" rx="6.6" ry="6.2" stroke-width="2.85"/><line x1="-9" y1="-32.6" x2="-28.4" y2="0" stroke-width="2.5"/></g>
<line x1="197.5" y1="1904.00" x2="214.1" y2="1904.00" stroke="#000" stroke-width="3.5"/>
<text transform="translate(80.87,1921.40) scale(1,1.01)" font-size="46" fill="#000" stroke="#000" stroke-width="0.5">-</text><path transform="translate(96.20,1921.40)" d="M12.1,0 L16.3,0 L16.3,-33 L13.1,-33 C12.6,-29.2 10.2,-26.6 4.7,-26.4 L4.7,-23.6 L12.1,-23.6 Z" fill="#000"/><text transform="translate(121.80,1921.40) scale(1,1.01)" font-size="46" fill="#000" stroke="#000" stroke-width="0.5">0</text>
<g transform="translate(186.60,1921.40)" fill="none" stroke="#000"><ellipse cx="-29.55" cy="-24.4" rx="6.6" ry="6.2" stroke-width="2.85"/><ellipse cx="-7.9" cy="-8.7" rx="6.6" ry="6.2" stroke-width="2.85"/><line x1="-9" y1="-32.6" x2="-28.4" y2="0" stroke-width="2.5"/></g>
<line x1="214.10" y1="1956.30" x2="214.10" y2="1972.80" stroke="#000" stroke-width="3.5"/>
<text transform="translate(167.80,2019.30) scale(1,1.01)" font-size="46" fill="#000" stroke="#000" stroke-width="0.5">2</text><text transform="translate(193.40,2019.30) scale(1,1.01)" font-size="46" fill="#000" stroke="#000" stroke-width="0.5">0</text>
<g transform="translate(258.20,2019.30)" fill="none" stroke="#000"><ellipse cx="-29.55" cy="-24.4" rx="6.6" ry="6.2" stroke-width="2.85"/><ellipse cx="-7.9" cy="-8.7" rx="6.6" ry="6.2" stroke-width="2.85"/><line x1="-9" y1="-32.6" x2="-28.4" y2="0" stroke-width="2.5"/></g>
<line x1="633.62" y1="1956.30" x2="633.62" y2="1972.80" stroke="#000" stroke-width="3.5"/>
<text transform="translate(587.32,2019.30) scale(1,1.01)" font-size="46" fill="#000" stroke="#000" stroke-width="0.5">4</text><text transform="translate(612.92,2019.30) scale(1,1.01)" font-size="46" fill="#000" stroke="#000" stroke-width="0.5">0</text>
<g transform="translate(677.72,2019.30)" fill="none" stroke="#000"><ellipse cx="-29.55" cy="-24.4" rx="6.6" ry="6.2" stroke-width="2.85"/><ellipse cx="-7.9" cy="-8.7" rx="6.6" ry="6.2" stroke-width="2.85"/><line x1="-9" y1="-32.6" x2="-28.4" y2="0" stroke-width="2.5"/></g>
<line x1="1053.14" y1="1956.30" x2="1053.14" y2="1972.80" stroke="#000" stroke-width="3.5"/>
<text transform="translate(1006.84,2019.30) scale(1,1.01)" font-size="46" fill="#000" stroke="#000" stroke-width="0.5">6</text><text transform="translate(1032.44,2019.30) scale(1,1.01)" font-size="46" fill="#000" stroke="#000" stroke-width="0.5">0</text>
<g transform="translate(1097.24,2019.30)" fill="none" stroke="#000"><ellipse cx="-29.55" cy="-24.4" rx="6.6" ry="6.2" stroke-width="2.85"/><ellipse cx="-7.9" cy="-8.7" rx="6.6" ry="6.2" stroke-width="2.85"/><line x1="-9" y1="-32.6" x2="-28.4" y2="0" stroke-width="2.5"/></g>
<line x1="1472.66" y1="1956.30" x2="1472.66" y2="1972.80" stroke="#000" stroke-width="3.5"/>
<text transform="translate(1426.36,2019.30) scale(1,1.01)" font-size="46" fill="#000" stroke="#000" stroke-width="0.5">8</text><text transform="translate(1451.96,2019.30) scale(1,1.01)" font-size="46" fill="#000" stroke="#000" stroke-width="0.5">0</text>
<g transform="translate(1516.76,2019.30)" fill="none" stroke="#000"><ellipse cx="-29.55" cy="-24.4" rx="6.6" ry="6.2" stroke-width="2.85"/><ellipse cx="-7.9" cy="-8.7" rx="6.6" ry="6.2" stroke-width="2.85"/><line x1="-9" y1="-32.6" x2="-28.4" y2="0" stroke-width="2.5"/></g>
<line x1="1892.18" y1="1956.30" x2="1892.18" y2="1972.80" stroke="#000" stroke-width="3.5"/>
<path transform="translate(1833.08,2019.30)" d="M12.1,0 L16.3,0 L16.3,-33 L13.1,-33 C12.6,-29.2 10.2,-26.6 4.7,-26.4 L4.7,-23.6 L12.1,-23.6 Z" fill="#000"/><text transform="translate(1858.68,2019.30) scale(1,1.01)" font-size="46" fill="#000" stroke="#000" stroke-width="0.5">0</text><text transform="translate(1884.28,2019.30) scale(1,1.01)" font-size="46" fill="#000" stroke="#000" stroke-width="0.5">0</text>
<g transform="translate(1949.08,2019.30)" fill="none" stroke="#000"><ellipse cx="-29.55" cy="-24.4" rx="6.6" ry="6.2" stroke-width="2.85"/><ellipse cx="-7.9" cy="-8.7" rx="6.6" ry="6.2" stroke-width="2.85"/><line x1="-9" y1="-32.6" x2="-28.4" y2="0" stroke-width="2.5"/></g>
<rect x="214.1" y="1473.70" width="1820.80" height="482.60" fill="none" stroke="#000" stroke-width="3.6"/>
<line x1="436.3" y1="1686.7" x2="1647.5" y2="1697" stroke="#000" stroke-width="4.3" stroke-dasharray="17.8 8.88"/>
<circle cx="538" cy="1588.2" r="5.7" fill="#ff5555"/>
<circle cx="436.3" cy="1685.9" r="5.7" fill="#4444ff"/>
<circle cx="747.4" cy="1667.1" r="5.7" fill="#4444ff"/>
<circle cx="752.6" cy="1687.3" r="5.7" fill="#4444ff"/>
<circle cx="660.2" cy="1716.2" r="5.7" fill="#4444ff"/>
<circle cx="795.1" cy="1717.1" r="5.7" fill="#4444ff"/>
<circle cx="965.9" cy="1669.3" r="5.7" fill="#4444ff"/>
<circle cx="984.8" cy="1683.9" r="5.7" fill="#4444ff"/>
<circle cx="1004.2" cy="1746.5" r="5.7" fill="#4444ff"/>
<circle cx="1101.1" cy="1766.2" r="5.7" fill="#4444ff"/>
<circle cx="1161.8" cy="1738.3" r="5.7" fill="#ff5555"/>
<circle cx="1172.5" cy="1721.7" r="5.7" fill="#4444ff"/>
<circle cx="1156.6" cy="1694.5" r="5.7" fill="#4444ff"/>
<circle cx="1199.6" cy="1694.1" r="5.7" fill="#4444ff"/>
<circle cx="1228" cy="1702.8" r="5.7" fill="#4444ff"/>
<circle cx="1274.7" cy="1661.4" r="5.7" fill="#4444ff"/>
<circle cx="1245" cy="1690" r="5.7" fill="#00bb00"/>
<circle cx="1306.7" cy="1634" r="5.7" fill="#4444ff"/>
<circle cx="1304" cy="1758" r="5.7" fill="#4444ff"/>
<circle cx="1589.8" cy="1582" r="5.7" fill="#ff5555"/>
<circle cx="1605.5" cy="1609.6" r="5.7" fill="#ff5555"/>
<circle cx="1338.5" cy="1611.7" r="5.7" fill="#4444ff"/>
<circle cx="1359.2" cy="1671.3" r="5.7" fill="#4444ff"/>
<circle cx="1440.1" cy="1661.3" r="5.7" fill="#4444ff"/>
<circle cx="1528.8" cy="1662.1" r="5.7" fill="#bb22bb"/>
<circle cx="1427" cy="1690.5" r="5.7" fill="#4444ff"/>
<circle cx="1443.2" cy="1690.2" r="5.7" fill="#4444ff"/>
<circle cx="1525.4" cy="1695.5" r="5.7" fill="#00bb00"/>
<circle cx="1590.6" cy="1706.8" r="5.7" fill="#4444ff"/>
<circle cx="1438.8" cy="1713.3" r="5.7" fill="#4444ff"/>
<circle cx="1497.9" cy="1711.2" r="5.7" fill="#4444ff"/>
<circle cx="1648.9" cy="1717.3" r="5.7" fill="#4444ff"/>
<circle cx="1613.4" cy="1734.9" r="5.7" fill="#4444ff"/>
<circle cx="1468.4" cy="1736.4" r="5.7" fill="#bb22bb"/>
<circle cx="1475.5" cy="1740.9" r="5.7" fill="#4444ff"/>
<circle cx="1393.3" cy="1733.8" r="5.7" fill="#4444ff"/>
<circle cx="1362.1" cy="1757.4" r="5.7" fill="#4444ff"/>
<text transform="translate(588.5,1587.7) scale(1,1.05)" font-size="35.8" text-anchor="middle" fill="#ff5555">ARM</text>
<text transform="translate(697.4,1666.2) scale(1,1.05)" font-size="35.8" text-anchor="middle" fill="#4444ff">MNE</text>
<text transform="translate(387,1711.9) scale(1,1.05)" font-size="35.8" text-anchor="middle" fill="#4444ff">BGR</text>
<text transform="translate(706.5,1711.9) scale(1,1.05)" font-size="35.8" text-anchor="middle" fill="#4444ff">SVK</text>
<text transform="translate(610.5,1742.2) scale(1,1.05)" font-size="35.8" text-anchor="middle" fill="#4444ff">ROU</text>
<text transform="translate(842.7,1742.2) scale(1,1.05)" font-size="35.8" text-anchor="middle" fill="#4444ff">SRB</text>
<text transform="translate(918.9,1669.7) scale(1,1.05)" font-size="35.8" text-anchor="middle" fill="#4444ff">HRV</text>
<text transform="translate(1032.5,1709.2) scale(1,1.05)" font-size="35.8" text-anchor="middle" fill="#4444ff">POL</text>
<text transform="translate(1157.2,1687.4) scale(1,1.05)" font-size="35.8" text-anchor="middle" fill="#4444ff">NLD</text>
<text transform="translate(1233.2,1663.3) scale(1,1.05)" font-size="35.8" text-anchor="middle" fill="#4444ff">LVA</text>
<text transform="translate(1260,1629.5) scale(1,1.05)" font-size="35.8" text-anchor="middle" fill="#4444ff">CYP</text>
<text transform="translate(1111.7,1721.7) scale(1,1.05)" font-size="35.8" text-anchor="middle" fill="#4444ff">EST</text>
<text transform="translate(1193.8,1725.3) scale(1,1.05)" font-size="35.8" text-anchor="middle" fill="#4444ff">CZE</text>
<text transform="translate(1269.7,1737.1) scale(1,1.05)" font-size="35.8" text-anchor="middle" fill="#4444ff">LTU</text>
<text transform="translate(956.5,1746.1) scale(1,1.05)" font-size="35.8" text-anchor="middle" fill="#4444ff">SVN</text>
<text transform="translate(1141.3,1768.3) scale(1,1.05)" font-size="35.8" text-anchor="middle" fill="#ff5555">ISR</text>
<text transform="translate(1051.8,1791.4) scale(1,1.05)" font-size="35.8" text-anchor="middle" fill="#4444ff">HUN</text>
<text transform="translate(1252.7,1783.9) scale(1,1.05)" font-size="35.8" text-anchor="middle" fill="#4444ff">SWE</text>
<text transform="translate(1293,1696.3) scale(1,1.05)" font-size="35.8" text-anchor="middle" fill="#00bb00">USA</text>
<text transform="translate(1541.6,1581.5) scale(1,1.05)" font-size="35.8" text-anchor="middle" fill="#ff5555">KOR</text>
<text transform="translate(1656.3,1624.6) scale(1,1.05)" font-size="35.8" text-anchor="middle" fill="#ff5555">TWN</text>
<text transform="translate(1388.4,1610.9) scale(1,1.05)" font-size="35.8" text-anchor="middle" fill="#4444ff">GRC</text>
<text transform="translate(1466.3,1643.7) scale(1,1.05)" font-size="35.8" text-anchor="middle" fill="#4444ff">FIN</text>
<text transform="translate(1389.1,1665.5) scale(1,1.05)" font-size="35.8" text-anchor="middle" fill="#4444ff">NOR</text>
<text transform="translate(1576.2,1658.7) scale(1,1.05)" font-size="35.8" text-anchor="middle" fill="#bb22bb">AUS</text>
<text transform="translate(1484.7,1677.9) scale(1,1.05)" font-size="35.8" text-anchor="middle" fill="#4444ff">BEL</text>
<text transform="translate(1389.8,1702.8) scale(1,1.05)" font-size="35.8" text-anchor="middle" fill="#4444ff">ISL</text>
<text transform="translate(1573.4,1692.3) scale(1,1.05)" font-size="35.8" text-anchor="middle" fill="#00bb00">CAN</text>
<text transform="translate(1479.7,1712) scale(1,1.05)" font-size="35.8" text-anchor="middle" fill="#4444ff">FRA</text>
<text transform="translate(1655.4,1710.2) scale(1,1.05)" font-size="35.8" text-anchor="middle" fill="#4444ff">ESP</text>
<text transform="translate(1551.4,1730.4) scale(1,1.05)" font-size="35.8" text-anchor="middle" fill="#4444ff">ITA</text>
<text transform="translate(1425.2,1736.4) scale(1,1.05)" font-size="35.8" text-anchor="middle" fill="#bb22bb">NZL</text>
<text transform="translate(1690.2,1744.8) scale(1,1.05)" font-size="35.8" text-anchor="middle" fill="#4444ff">MLT</text>
<text transform="translate(1345.5,1758) scale(1,1.05)" font-size="35.8" text-anchor="middle" fill="#4444ff">DEU</text>
<text transform="translate(1568.5,1764.5) scale(1,1.05)" font-size="35.8" text-anchor="middle" fill="#4444ff">PRT</text>
<text transform="translate(1487,1771.2) scale(1,1.05)" font-size="35.8" text-anchor="middle" fill="#4444ff">DNK</text>
<text transform="translate(1404.5,1792.2) scale(1,1.05)" font-size="35.8" text-anchor="middle" fill="#4444ff">AUT</text>
</svg></body></html>
